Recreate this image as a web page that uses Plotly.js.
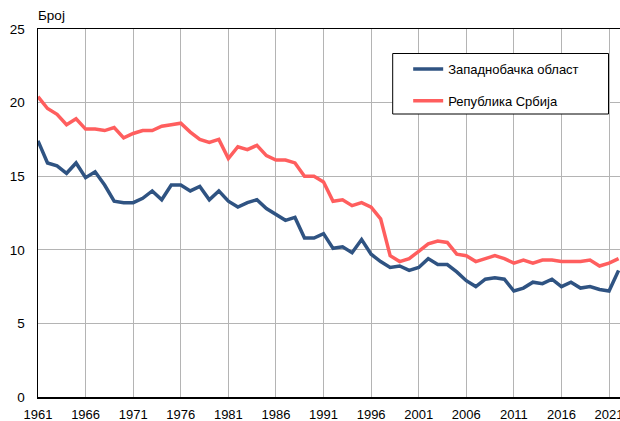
<!DOCTYPE html>
<html>
<head>
<meta charset="utf-8">
<script src="https://cdn.plot.ly/plotly-3.0.1.min.js"></script>
<style>
html,body{margin:0;padding:0;background:#fff;}
#chart{width:620px;height:421px;}
</style>
</head>
<body>
<div id="chart"></div>
<script>
const years = [1961,1962,1963,1964,1965,1966,1967,1968,1969,1970,1971,1972,1973,1974,1975,1976,1977,1978,1979,1980,1981,1982,1983,1984,1985,1986,1987,1988,1989,1990,1991,1992,1993,1994,1995,1996,1997,1998,1999,2000,2001,2002,2003,2004,2005,2006,2007,2008,2009,2010,2011,2012,2013,2014,2015,2016,2017,2018,2019,2020,2021,2022];
const zapadnobacka = [17.4,15.9,15.7,15.2,15.9,14.9,15.3,14.4,13.3,13.2,13.2,13.5,14.0,13.4,14.4,14.4,14.0,14.3,13.4,14.0,13.3,12.9,13.2,13.4,12.8,12.4,12.0,12.2,10.8,10.8,11.1,10.1,10.2,9.8,10.7,9.7,9.2,8.8,8.9,8.6,8.8,9.4,9.0,9.0,8.5,7.9,7.5,8.0,8.1,8.0,7.2,7.4,7.8,7.7,8.0,7.5,7.8,7.4,7.5,7.3,7.2,8.6];
const srbija = [20.4,19.6,19.2,18.5,18.9,18.2,18.2,18.1,18.3,17.6,17.9,18.1,18.1,18.4,18.5,18.6,18.0,17.5,17.3,17.5,16.2,17.0,16.8,17.1,16.4,16.1,16.1,15.9,15.0,15.0,14.6,13.3,13.4,13.0,13.2,12.9,12.1,9.6,9.2,9.4,9.9,10.4,10.6,10.5,9.7,9.6,9.2,9.4,9.6,9.4,9.1,9.3,9.1,9.3,9.3,9.2,9.2,9.2,9.3,8.9,9.1,9.4];
const seriesNames = ['Западнобачка област','Република Србија'];
const xTicks = [1961,1966,1971,1976,1981,1986,1991,1996,2001,2006,2011,2016,2021];
const yTicks = [0,5,10,15,20,25];
const yLabel = 'Број';

const fam = '"Liberation Sans", Arial, sans-serif';
const tickFont = {family:fam, size:13.5, color:'#000'};
const xTickFont = {family:fam, size:13, color:'#000'};
const legFont = {family:fam, size:13, color:'#000'};

const traces = [
  {x:years, y:zapadnobacka, name:seriesNames[0], type:'scatter', mode:'lines',
   line:{color:'#2F5382', width:3.5}, legendgroup:'a'},
  {x:years, y:srbija, name:seriesNames[1], type:'scatter', mode:'lines',
   line:{color:'#FF5E5E', width:3.5}, legendgroup:'b'}
];

const L = 37.5, T = 29, B = 24, W = 620, H = 421;
const pw = W - L, ph = H - T - B;
const px = v => (v - L) / pw;
const py = v => 1 - (v - T) / ph;

const layout = {
  width:W, height:H,
  margin:{l:L, r:0, t:T, b:B},
  paper_bgcolor:'#fff', plot_bgcolor:'#fff',
  font:tickFont,
  showlegend:true,
  xaxis:{
    range:[1961, 2022.15], tickvals:xTicks, ticktext:xTicks.map(String),
    showgrid:true, gridcolor:'#b4b4b4', gridwidth:1,
    showline:true, linecolor:'#000', linewidth:1.5, mirror:true,
    zeroline:false, ticks:'', automargin:false, ticklabelstandoff:5,
    ticklabeloverflow:'allow', tickfont:xTickFont
  },
  yaxis:{
    range:[0,25], tickvals:yTicks,
    showgrid:true, gridcolor:'#b4b4b4', gridwidth:1,
    showline:true, linecolor:'#000', linewidth:1.5,
    zeroline:false, ticks:'', automargin:false, ticklabelstandoff:9,
    ticklabeloverflow:'allow', tickfont:tickFont
  },
  legend:{
    x:px(408), xanchor:'left',
    y:py(54), yanchor:'top',
    bgcolor:'rgba(0,0,0,0)', borderwidth:0,
    font:legFont, tracegroupgap:12
  },
  shapes:[{
    type:'rect', xref:'paper', yref:'paper', layer:'above',
    x0:px(392.5), x1:px(608.5),
    y0:py(114), y1:py(53.5),
    fillcolor:'#fff', line:{color:'#000', width:1}
  }],
  annotations:[{
    text:yLabel, xref:'paper', yref:'paper', x:0, y:1,
    xanchor:'left', yanchor:'bottom', xshift:-2, yshift:4,
    showarrow:false, font:tickFont
  }]
};

Plotly.newPlot('chart', traces, layout, {displayModeBar:false, staticPlot:true});
</script>
</body>
</html>
